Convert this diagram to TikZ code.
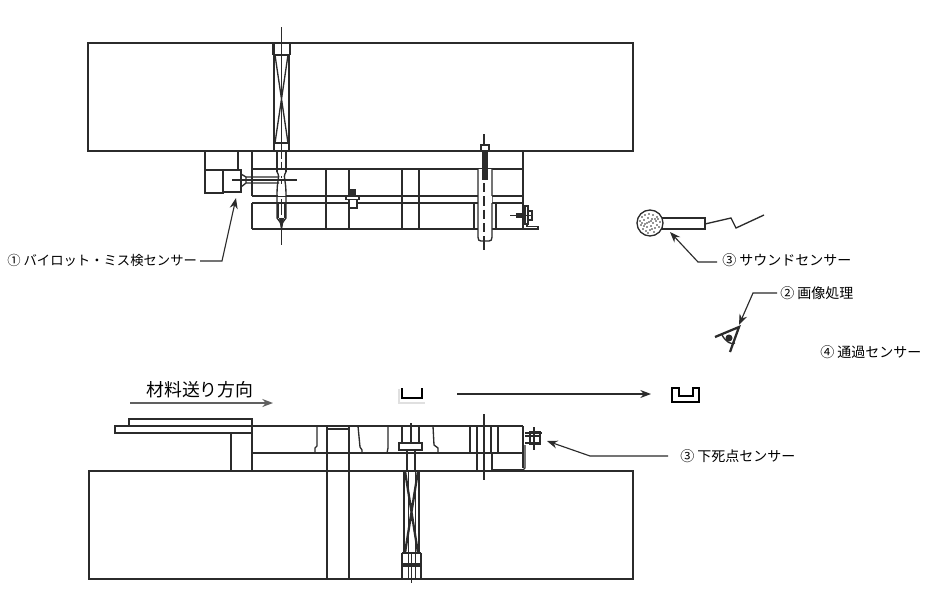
\documentclass[tikz,border=0pt]{standalone}
\usepackage{fontspec}
\setmainfont{Noto Sans CJK JP}
\usetikzlibrary{arrows.meta}
\definecolor{ink}{HTML}{2B2B2B}
\tikzset{
  base/.style={draw=ink,line width=1pt,line cap=butt},
  fine/.style={draw=ink,line width=0.75pt},
  heavy/.style={draw=ink,line width=1.7pt},
  center line/.style={draw=ink,line width=0.8pt},
  lead/.style={draw=ink,line width=0.85pt,-{Stealth[length=8pt,width=6pt]}},
  feed/.style={draw=ink!75,line width=1.1pt,-{Stealth[length=8pt,width=6pt]}},
  lbl/.style={anchor=west,inner sep=0pt,font=\fontsize{10.5pt}{12pt}\selectfont,text=black},
  pilotLbl/.style={anchor=west,inner sep=0pt,font=\fontsize{10pt}{12pt}\selectfont,text=black},
  bigLbl/.style={anchor=west,inner sep=0pt,font=\fontsize{13.4pt}{15pt}\selectfont,text=black},
}
\begin{document}
\begin{tikzpicture}[x=0.75pt,y=-0.75pt]
\useasboundingbox (0,0) rectangle (951,597);
\fill[white] (0,0) rectangle (951,597);

% ---------- upper die ----------
\draw[base] (88,43) rectangle (633,151);
% spring (upper)
\draw[base] (274,55) -- (274,151) (289,55) -- (289,151) (274,143) -- (289,143);
\draw[base] (275,55) -- (288,143) (288,55) -- (275,143);
\draw[heavy] (273.5,43) -- (273.5,55) (290,43) -- (290,55);
\draw[base] (274,55) -- (289,55);
\draw[center line] (281.5,27) -- (281.5,142);
\draw[center line,dash pattern=on 12pt off 2pt] (281.5,143) -- (281.5,218);
\draw[center line] (281.5,218) -- (281.5,245);
% plates
\draw[base] (252,151) -- (252,196) (252,203) -- (252,229);
\draw[base] (252,169) -- (523,169) (252,196) -- (523,196) (252,203) -- (523,203) (252,229) -- (523,229);
\draw[base] (326,169) -- (326,229) (349,169) -- (349,229);
\draw[base] (402,169) -- (402,229) (419,169) -- (419,229);
\draw[base] (523,151) -- (523,229);
% left sensor
\draw[base] (205,151) rectangle (238,170);
\draw[base] (205,170) rectangle (223,193);
\draw[base] (223,170) rectangle (241,192);
\draw[heavy] (241,170) -- (241,192) (223,170) -- (241,170);
\draw[base] (241,174) -- (246,177) -- (279,177) (241,187) -- (246,183) -- (279,183) (246,177) -- (246,183);
\draw[center line] (232,180) -- (297,180);
% punch shaft
\fill[white] (277.5,170) rectangle (285.5,176);
\fill[white] (277.5,184) rectangle (285.5,196);
\draw[base] (277,151) -- (277,172) (286,151) -- (286,172);
\draw[base] (277,172) .. controls (279,175) and (279,178) .. (278,181) .. controls (277,187) and (277,192) .. (277,199) -- (277,218) -- (281.5,224) -- (286,218) -- (286,199) .. controls (286,192) and (286,187) .. (285,181) .. controls (284,178) and (284,175) .. (286,172);
\draw[heavy] (278,202) -- (278,218) (285,202) -- (285,218);
\fill[ink] (279,218) -- (284,218) -- (281.5,233) -- cycle;
% small part
\fill[ink] (349.5,189) rectangle (355.5,196);
\draw[base,fill=white] (346,196) rectangle (359,199.5);
\draw[base,fill=white] (349,199.5) rectangle (357,208);
% guide pin
\draw[base,fill=white] (478,169) -- (478,237) .. controls (478,240) and (479,241) .. (481,241) -- (489,241) .. controls (491,241) and (492,240) .. (492,237) -- (492,169);
\draw[base] (474,203) -- (474,229) (496,203) -- (496,229);
\fill[white] (478.5,196) rectangle (491.5,203);
\draw[center line] (484,134) -- (484,145);
\draw[base,fill=white] (481,145) rectangle (489,151);
\fill[ink] (482.5,151) rectangle (486,179);
\draw[base] (482.5,151) -- (482.5,179) -- (487,179) -- (487,151);
\draw[center line,dash pattern=on 7pt off 3pt] (484,183) -- (484,241);
\draw[center line] (484,241) -- (484,250);
% right bolt
\draw[center line] (510,215.5) -- (533,215.5);
\fill[ink] (516,213) rectangle (525,218);
\draw[base] (525,206) rectangle (528,224);
\draw[base] (528,211) rectangle (532,220);
\draw[base] (523,229) -- (538,229) -- (538,226.5) -- (527,226.5) -- (527,224);

% ---------- sound sensor ----------
\draw[base] (662,218) rectangle (705,229);
\draw[base,fill=white] (650,223) circle (13);
\foreach \px/\py in {642/217,645/215,649/214,653/215,657/217,640/221,644/220,648/218,652/219,656/221,660/222,641/225,645/224,649/222,653/223,657/225,643/229,647/227,651/226,655/228,659/227,646/231,650/230,654/232,648/233,644/226,651/221,647/223,655/219,642/223,658/219,652/229}
  \fill[ink] (\px,\py) circle (0.9);
\draw[base] (705,224) -- (731,218) -- (736,228) -- (764,215);
% eye
\draw[heavy] (715,337) -- (739,327) -- (730,352);
\draw[base] (722,335) .. controls (726,342) and (731,345) .. (735,343);
\fill[ink] (729,338) circle (3.5);

% ---------- lower die ----------
\draw[base] (89,471) rectangle (633,579);
% feed plates
\draw[base] (129,426) -- (129,419) -- (252,419) -- (252,426);
\draw[base] (115,426) rectangle (252,433);
\draw[base] (231,433) -- (231,471) (252,426) -- (252,471);
\draw[base] (252,426) -- (523,426) (252,453) -- (523,453);
\draw[base] (317,426) -- (317,446) -- (315,448) -- (315,453);
\draw[base] (327,426) -- (327,579) (349,426) -- (349,579);
\draw[base] (327,429) -- (349,429);
\draw[base] (358,426) -- (360,447) -- (362,450) -- (362,453);
\draw[base] (388,426) -- (388,448) -- (387,453);
\draw[base] (402,426) -- (402,443) (419,426) -- (419,443);
\draw[base] (433,426) -- (434,445) -- (438,448) -- (438,453);
\draw[base] (470,426) -- (470,453) (477,426) -- (477,471);
\draw[base] (491,426) -- (491,453) (498,426) -- (498,453);
\draw[center line] (484,414) -- (484,480);
\draw[base] (523,426) -- (523,468);
\draw[heavy] (492,453) -- (492,470) -- (523,470);
\draw[base] (525,445) -- (525,468) -- (523,470);
% central punch
\draw[base,fill=white] (399,443) rectangle (422,450);
\draw[base] (407,450) -- (407,471) (415,450) -- (415,471);
\draw[center line] (411,423) -- (411,443);
% bolt
\draw[center line] (534,427) -- (534,450) (525,433) -- (542,433);
\draw[base] (530,432) rectangle (540,444);
\draw[base] (525,436) -- (540,436) (525,443) -- (540,443);
% spring (lower)
\draw[heavy] (404,471) -- (404,553) (419,471) -- (419,553);
\draw[fine] (408,471) -- (408,553) (415,471) -- (415,553);
\draw[heavy] (405,471) -- (418,553) (418,471) -- (405,553);
\draw[base] (402,553) -- (402,579) (421,553) -- (421,579);
\draw[heavy] (402,553) -- (421,553);
\draw[draw=ink,line width=2.4pt] (402,565) -- (421,565);
\draw[center line] (411.5,553) -- (411.5,583);
\draw[fine] (408,553) -- (408,579) (415,553) -- (415,579);

% ---------- workpieces ----------
\draw[draw=black!12,line width=1.2pt] (399,389) -- (399,403) -- (425,403);
\draw[draw=black,line width=1.9pt] (402,388) -- (402,398) -- (422,398) -- (422,388);
\draw[draw=black,line width=1pt] (672,388) -- (672,402) -- (699,402) -- (699,388) -- (693,388) -- (693,396) -- (679,396) -- (679,388) -- cycle;

% ---------- labels ----------
\node[bigLbl] (feedtext) at (146,389.5) {材料送り方向};
\node[pilotLbl] (pilot) at (7,260) {① バイロット・ミス検センサー};
\node[lbl] (sound) at (722,260) {③ サウンドセンサー};
\node[lbl] (image) at (780,293) {② 画像処理};
\node[lbl] (pass) at (820,352) {④ 通過センサー};
\node[lbl] (bdc) at (680,456) {③ 下死点センサー};

\coordinate (pilotS) at (200,261);
\coordinate (soundS) at (717,262);
\coordinate (imageS) at (777,293);
\coordinate (bdcS) at (668,456);
\coordinate (feedS) at (130,403); \coordinate (feedE) at (273,403);
\coordinate (moveS) at (457,394); \coordinate (moveE) at (651,394);
\coordinate (pilotK) at (222,261); \coordinate (pilotT) at (236,198);
\coordinate (soundK) at (698,262); \coordinate (soundT) at (670,232);
\coordinate (imageK) at (753,293); \coordinate (imageT) at (739,325);
\coordinate (bdcK) at (590,456); \coordinate (bdcT) at (547,441);

\draw[feed] (feedS) -- (feedE);
\draw[lead] (moveS) -- (moveE);
\draw[lead] (pilotS) -- (pilotK) -- (pilotT);
\draw[lead] (soundS) -- (soundK) -- (soundT);
\draw[lead] (imageS) -- (imageK) -- (imageT);
\draw[lead] (bdcS) -- (bdcK) -- (bdcT);
\end{tikzpicture}
\end{document}
